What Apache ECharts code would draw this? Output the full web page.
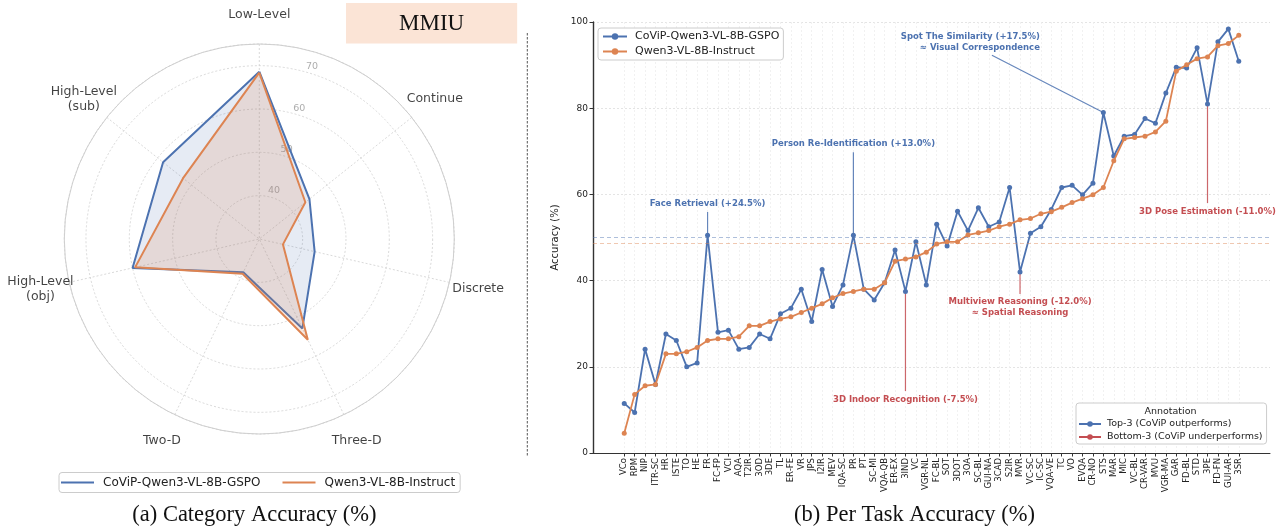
<!DOCTYPE html>
<html><head><meta charset="utf-8">
<script src="https://cdn.jsdelivr.net/npm/echarts@6/dist/echarts.min.js"></script>
<style>html,body{margin:0;padding:0;background:#fff}#c{width:1286px;height:529px}</style>
</head><body><div id="c"></div>
<script>
// ---------- data ----------
const radarCategories = ['Low-Level','Continue','Discrete','Three-D','Two-D','High-Level\n(obj)','High-Level\n(sub)'];
const radarCoViP = [68.6, 44.8, 43.1, 52.9, 38.5, 60.0, 58.4];
const radarQwen  = [68.4, 43.6, 35.6, 55.8, 38.9, 59.4, 52.5];
const radarTicks = [40, 50, 60, 70];

const tasks = ['VCo','RPM','NIP','ITR-SC','HR','ISTE','TO','HE','FR','FC-FP',
  'VCI','AQA','T2IR','3OD','3DE','TL','ER-FE','VR','JPS','I2IR',
  'MEV','IQA-SC','PR','PT','SC-MI','VQA-QB','ER-EX','3IND','VC','VGR-NL',
  'FC-BL','SOT','3DOT','3OA','SC-BL','GUI-NA','3CAD','S2IR','MVR','VC-SC',
  'IC-SC','VQA-VE','TC','VO','EVQA','CR-NO','STS','MAR','MIC','VC-BL',
  'CR-VAR','MVU','VGR-MA','GAR','FD-BL','STD','3PE','FD-FN','GUI-AR','3SR'];
const taskCoViP = [11.5, 9.4, 24.1, 15.9, 27.6, 26.1, 20.0, 20.9, 50.5, 28.0,
  28.5, 24.1, 24.5, 27.6, 26.5, 32.3, 33.6, 38.0, 30.5, 42.6,
  34.0, 39.0, 50.5, 38.0, 35.5, 39.5, 47.1, 37.5, 49.0, 39.0,
  53.1, 48.0, 56.1, 51.6, 56.9, 52.5, 53.6, 61.6, 42.0, 51.0,
  52.5, 56.5, 61.6, 62.1, 59.9, 62.6, 79.0, 68.9, 73.5, 73.9,
  77.6, 76.5, 83.5, 89.5, 89.3, 94.0, 81.0, 95.4, 98.4, 90.9];
const taskQwen = [4.6, 13.6, 15.6, 15.9, 23.0, 23.0, 23.5, 24.5, 26.1, 26.5,
  26.5, 27.0, 29.5, 29.5, 30.5, 31.1, 31.6, 32.6, 33.6, 34.6,
  36.0, 37.0, 37.5, 38.0, 38.0, 39.5, 44.5, 45.0, 45.5, 46.6,
  48.5, 49.0, 49.0, 50.6, 51.1, 51.6, 52.5, 53.1, 54.1, 54.4,
  55.5, 56.0, 57.0, 58.1, 59.0, 59.9, 61.6, 67.8, 72.9, 73.2,
  73.5, 74.5, 77.0, 88.6, 90.1, 91.5, 91.9, 94.5, 95.0, 96.9];
const yTicks = [0, 20, 40, 60, 80, 100];

const topAnnotations = [
  {task: 'FR',  text: 'Face Retrieval (+24.5%)'},
  {task: 'PR',  text: 'Person Re-Identification (+13.0%)'},
  {task: 'STS', text: 'Spot The Similarity (+17.5%)\n≈ Visual Correspondence'}
];
const bottomAnnotations = [
  {task: '3IND', text: '3D Indoor Recognition (-7.5%)'},
  {task: 'MVR',  text: 'Multiview Reasoning (-12.0%)\n≈ Spatial Reasoning'},
  {task: '3PE',  text: '3D Pose Estimation (-11.0%)'}
];

const NAME_A = 'CoViP-Qwen3-VL-8B-GSPO';
const NAME_B = 'Qwen3-VL-8B-Instruct';
const NAME_TOP = 'Top-3 (CoViP outperforms)';
const NAME_BOT = 'Bottom-3 (CoViP underperforms)';

// ---------- style / layout ----------
const BLUE = '#4c72b0', ORANGE = '#dd8452', RED = '#c44e52';
const FONT = 'DejaVu Sans';
const SERIF = 'Liberation Serif';
const RADAR_CENTER = [259.3, 239];
const RADAR_RADIUS = 195;
const RADAR_MIN = 30, RADAR_MAX = 75;
const RADAR_LABEL_R = 81.8;      // radius (axis units) where category names sit
const RADAR_TICK_ANGLE = 17;     // degrees clockwise from top
const RADAR_TICK_SHIFT = 1.6;
const STEP = 360 / radarCategories.length;

const leaderLayout = {
  'FR':   {dx: 0,     dy: 5.4,   label: {position: 'top', distance: 2.5}},
  'PR':   {dx: 0,     dy: 19.3,  label: {position: 'top', distance: 2.5}},
  'STS':  {dx: -10.7, dy: 13.3,  label: {position: 'top', distance: 2, align: 'right', offset: [48, 0]}},
  '3IND': {dx: 0,     dy: -23.1, label: {position: 'bottom', distance: 3}},
  'MVR':  {dx: 0,     dy: -5.1,  label: {position: 'bottom', distance: 2.5}},
  '3PE':  {dx: 0,     dy: -23,   label: {position: 'bottom', distance: 3}}
};

function ring(vals) {
  return vals.map((v, i) => [v, i * STEP]).concat([[vals[0], 360]]);
}
function leaderData(list, color) {
  const out = [];
  list.forEach((a, k) => {
    const i = tasks.indexOf(a.task);
    const v = taskCoViP[i];
    const L = leaderLayout[a.task];
    if (k) out.push(['-', '-']);
    out.push([i, v]);
    out.push({
      value: [i + L.dx, v + L.dy],
      label: Object.assign({
        show: true, formatter: a.text, color: color, fontWeight: 'bold',
        fontSize: 8.5, lineHeight: 11, fontFamily: FONT
      }, L.label)
    });
  });
  return out;
}
const taskIdx = tasks.map((_, i) => i);

const option = {
  animation: false,
  backgroundColor: '#fff',
  textStyle: {fontFamily: FONT},
  title: [
    {text: '(a) Category Accuracy (%)', left: 254.4, top: 503.5, textAlign: 'center', padding: 0,
     textStyle: {fontFamily: SERIF, fontSize: 22.5, fontWeight: 'normal', color: '#111'}},
    {text: '(b) Per Task Accuracy (%)', left: 914.5, top: 503.5, textAlign: 'center', padding: 0,
     textStyle: {fontFamily: SERIF, fontSize: 22.5, fontWeight: 'normal', color: '#111'}},
    {text: 'MMIU', left: 346, top: 3, backgroundColor: '#fbe4d6', padding: [9, 53, 8.5, 53],
     textStyle: {fontFamily: SERIF, fontSize: 23, lineHeight: 23, fontWeight: 'normal', color: '#111'}},
    {text: 'Annotation', left: 1170.5, top: 406.5, textAlign: 'center', padding: 0, z: 10,
     textStyle: {fontFamily: FONT, fontSize: 9.5, fontWeight: 'normal', color: '#222'}}
  ],
  legend: [
    {data: [NAME_A, NAME_B], left: 59, top: 472.5, orient: 'horizontal', icon: 'rect',
     itemWidth: 33, itemHeight: 2, itemGap: 22, padding: [4, 5, 4, 2],
     borderColor: '#cccccc', borderWidth: 1, borderRadius: 3, backgroundColor: '#fff',
     textStyle: {fontSize: 12, color: '#222', padding: [0, 0, 0, 4]}},
    {data: [NAME_A, NAME_B], left: 598, top: 28, orient: 'vertical',
     itemWidth: 24, itemHeight: 8, itemGap: 4, padding: [3, 4, 3, 4],
     borderColor: '#cccccc', borderWidth: 1, borderRadius: 3, backgroundColor: '#fff',
     lineStyle: {width: 2}, textStyle: {fontSize: 11, color: '#222', padding: [0, 0, 0, 3]}},
    {data: [NAME_TOP, NAME_BOT], left: 1076, top: 403, orient: 'vertical',
     itemWidth: 22, itemHeight: 7, itemGap: 3, padding: [16, 4, 2, 2],
     borderColor: '#cccccc', borderWidth: 1, borderRadius: 3, backgroundColor: '#fff',
     lineStyle: {width: 2, opacity: 1}, itemStyle: {opacity: 1},
     textStyle: {fontSize: 9.5, color: '#222', padding: [0, 0, 0, 1]}}
  ],
  polar: [
    {center: RADAR_CENTER, radius: RADAR_RADIUS},
    {center: RADAR_CENTER, radius: RADAR_RADIUS}
  ],
  angleAxis: [
    {polarIndex: 0, type: 'value', min: 0, max: 360, interval: STEP, startAngle: 90, clockwise: true,
     axisLine: {show: true, lineStyle: {color: '#cfcfcf', width: 1}},
     axisTick: {show: false}, axisLabel: {show: false},
     splitLine: {show: true, lineStyle: {color: '#cfcfcf', type: [2, 2], width: 0.8}}},
    {polarIndex: 1, type: 'value', min: 0, max: 360, startAngle: 90, clockwise: true,
     axisLine: {show: false}, axisTick: {show: false}, axisLabel: {show: false}, splitLine: {show: false}}
  ],
  radiusAxis: [
    {polarIndex: 0, min: RADAR_MIN, max: RADAR_MAX, interval: 10,
     axisLine: {show: false}, axisTick: {show: false}, axisLabel: {show: false},
     splitLine: {show: true, lineStyle: {color: '#cfcfcf', type: [2, 2], width: 0.8}}},
    {polarIndex: 1, min: RADAR_MIN, max: RADAR_MAX,
     axisLine: {show: false}, axisTick: {show: false}, axisLabel: {show: false}, splitLine: {show: false}}
  ],
  grid: {left: 593, right: 16, top: 22, bottom: 76},
  xAxis: {
    type: 'value', min: -3, max: 62, interval: 1,
    axisLine: {show: true, onZero: false, lineStyle: {color: '#333', width: 1}},
    axisTick: {show: true, customValues: taskIdx, length: 3.5, lineStyle: {color: '#333'}},
    axisLabel: {customValues: taskIdx, formatter: v => tasks[v] || '', rotate: 90,
      fontSize: 8.5, color: '#222', margin: 5},
    splitLine: {show: true, lineStyle: {color: '#eeeeee', type: [2, 2], width: 0.8}}
  },
  yAxis: {
    type: 'value', min: yTicks[0], max: yTicks[yTicks.length - 1], interval: 20,
    name: 'Accuracy (%)', nameLocation: 'middle', nameGap: 32,
    nameTextStyle: {fontSize: 10, color: '#222'},
    axisLine: {show: true, onZero: false, lineStyle: {color: '#333', width: 1.4}},
    axisTick: {show: true, length: 3.5, lineStyle: {color: '#333'}},
    axisLabel: {fontSize: 9, color: '#222', margin: 5},
    splitLine: {show: true, lineStyle: {color: '#dddddd', type: [2, 2], width: 0.8}}
  },
  graphic: [
    {type: 'line', shape: {x1: 527.3, y1: 33, x2: 527.3, y2: 457},
     style: {stroke: '#555', lineWidth: 1, lineDash: [2.5, 1.5]}}
  ],
  series: [
    {name: NAME_A, type: 'line', coordinateSystem: 'polar', polarIndex: 0, data: ring(radarCoViP),
     symbol: 'none', lineStyle: {color: BLUE, width: 2}, itemStyle: {color: BLUE},
     areaStyle: {color: BLUE, opacity: 0.14}, z: 3, silent: true},
    {name: NAME_B, type: 'line', coordinateSystem: 'polar', polarIndex: 0, data: ring(radarQwen),
     symbol: 'none', lineStyle: {color: ORANGE, width: 2}, itemStyle: {color: ORANGE},
     areaStyle: {color: ORANGE, opacity: 0.18}, z: 4, silent: true},
    {name: NAME_A, type: 'line', data: tasks.map((t, i) => [i, taskCoViP[i]]),
     symbol: 'circle', symbolSize: 5, lineStyle: {color: BLUE, width: 1.8}, itemStyle: {color: BLUE}, z: 3,
     markLine: {silent: true, symbol: 'none', label: {show: false},
       lineStyle: {color: BLUE, type: [4, 3], width: 1, opacity: 0.45},
       data: [{type: 'average', valueDim: 'y'}]}},
    {name: NAME_B, type: 'line', data: tasks.map((t, i) => [i, taskQwen[i]]),
     symbol: 'circle', symbolSize: 5, lineStyle: {color: ORANGE, width: 1.8}, itemStyle: {color: ORANGE}, z: 4,
     markLine: {silent: true, symbol: 'none', label: {show: false},
       lineStyle: {color: ORANGE, type: [4, 3], width: 1, opacity: 0.45},
       data: [{type: 'average', valueDim: 'y'}]}},
    {name: NAME_TOP, type: 'line', data: leaderData(topAnnotations, BLUE), connectNulls: false,
     symbol: 'circle', symbolSize: 0, lineStyle: {color: BLUE, width: 1.2, opacity: 0.85},
     itemStyle: {color: BLUE}, z: 2, silent: true},
    {name: NAME_BOT, type: 'line', data: leaderData(bottomAnnotations, RED), connectNulls: false,
     symbol: 'circle', symbolSize: 0, lineStyle: {color: RED, width: 1.2, opacity: 0.85},
     itemStyle: {color: RED}, z: 2, silent: true},
    {type: 'scatter', coordinateSystem: 'polar', polarIndex: 0, silent: true, symbolSize: 0, clip: false,
     data: radarCategories.map((c, i) => [RADAR_LABEL_R, i * STEP]),
     label: {show: true, position: 'inside', formatter: p => radarCategories[p.dataIndex],
       fontSize: 12.5, lineHeight: 15, color: '#111', fontFamily: FONT, align: 'center', verticalAlign: 'middle'}},
    {type: 'scatter', coordinateSystem: 'polar', polarIndex: 1, silent: true, symbolSize: 0, clip: false,
     data: radarTicks.map(t => [t + RADAR_TICK_SHIFT, RADAR_TICK_ANGLE]),
     label: {show: true, position: 'inside', formatter: p => String(radarTicks[p.dataIndex]),
       fontSize: 9.5, color: '#999', fontFamily: FONT}}
  ]
};

const chart = echarts.init(document.getElementById('c'));
chart.setOption(option);
</script>
</body></html>
